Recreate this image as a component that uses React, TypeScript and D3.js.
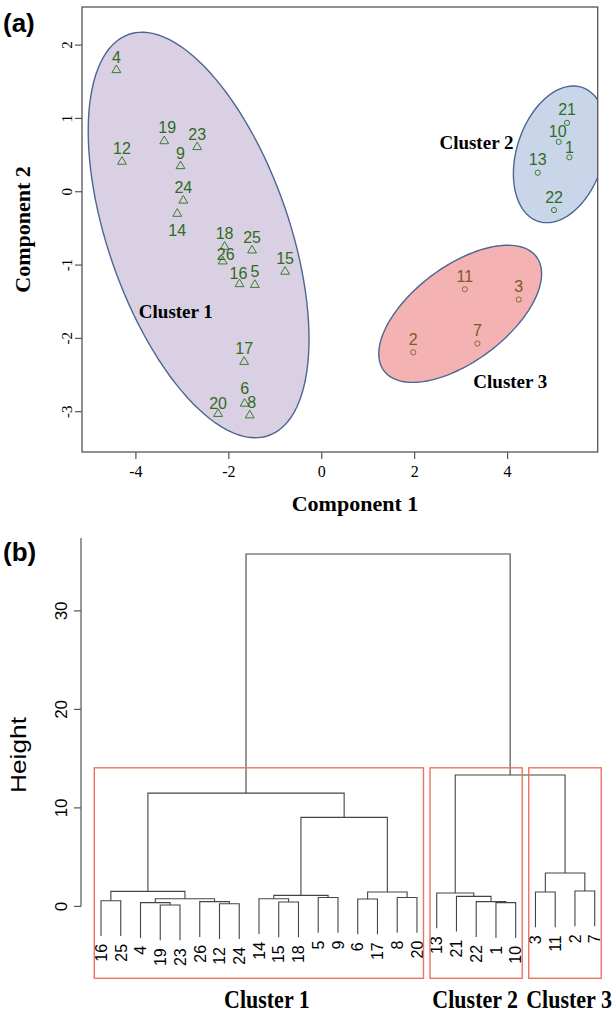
import React from 'react';
import * as d3 from 'd3';

// ---- panel (a): PCA scores ----
const pcaIds = ['4', '12', '19', '23', '9', '24', '14', '18', '26', '25', '15', '16', '5', '17', '6', '8', '20',
  '21', '10', '1', '13', '22', '11', '3', '7', '2'];
const pc1 = [-4.42, -4.30, -3.39, -2.68, -3.04, -2.98, -3.11, -2.09, -2.13, -1.50, -0.79, -1.77, -1.44, -1.67, -1.66, -1.55, -2.23,
  5.28, 5.10, 5.33, 4.65, 5.00, 3.08, 4.24, 3.35, 1.97];
const pc2 = [1.66, 0.41, 0.69, 0.61, 0.35, -0.12, -0.30, -0.75, -0.95, -0.80, -1.09, -1.26, -1.27, -2.32, -2.89, -3.05, -3.03,
  0.94, 0.68, 0.47, 0.26, -0.25, -1.33, -1.47, -2.07, -2.19];
const pcaCluster = [1, 1, 1, 1, 1, 1, 1, 1, 1, 1, 1, 1, 1, 1, 1, 1, 1, 2, 2, 2, 2, 2, 3, 3, 3, 3];

// cluster ellipses: centre + covariance, in component units
const ellCx = [-2.65, 5.13, 2.98];
const ellCy = [-0.59, 0.51, -1.665];
const ellSxx = [5.647, 1.009, 3.071];
const ellSxy = [-3.371, 0.266, 0.957];
const ellSyy = [7.651, 0.869, 0.875];
const clusterNames = ['Cluster 1', 'Cluster 2', 'Cluster 3'];
// where the cluster names sit in panel (a), component units
const nameAtX = [-3.14, 3.33, 4.06];
const nameAtY = [-1.72, 0.58, -2.68];

const xTicksA = [-4, -2, 0, 2, 4];
const yTicksA = [-3, -2, -1, 0, 1, 2];

// ---- panel (b): dendrogram ----
const leafOrder = ['16', '25', '4', '19', '23', '26', '12', '24', '14', '15', '18', '5', '9', '6', '17', '8', '20',
  '13', '21', '22', '1', '10', '3', '11', '2', '7'];
// R hclust style: negative = leaf id, positive = earlier merge (1-based)
const merges: [number, number, number][] = [
  [-19, -23, 0.14],
  [-12, -24, 0.27],
  [-1, -10, 0.38],
  [-4, 1, 0.38],
  [-15, -18, 0.44],
  [-26, 2, 0.48],
  [-22, 3, 0.48],
  [-16, -25, 0.58],
  [-6, -17, 0.75],
  [4, 6, 0.78],
  [-14, 5, 0.78],
  [-5, -9, 0.91],
  [-8, -20, 0.91],
  [-21, 7, 1.02],
  [11, 12, 1.12],
  [-13, 14, 1.36],
  [9, 13, 1.46],
  [-3, -11, 1.46],
  [8, 10, 1.52],
  [-2, -7, 1.56],
  [18, 20, 3.39],
  [15, 17, 9.04],
  [19, 22, 11.5],
  [16, 21, 13.34],
  [23, 24, 35.78],
];
const clusterSizes = [17, 5, 4];
const cutHeight = 14.07;
const clusterLabelAt = [8.4, 18.95, 23.7];
const yTicksB = [0, 10, 20, 30];

const labelNudge: Record<string, [number, number]> = {
  '14': [0, 22], '26': [3, -1], '19': [3, -8], '1': [0, -4], '10': [-1, -5], '16': [-1, -5], '20': [0, -5],
  '6': [0, -9.5], '8': [2, -7],
};

const serif = 'Liberation Serif, Times New Roman, serif';
const sans = 'Liberation Sans, Arial, sans-serif';

export default function App() {
  const xA = d3.scaleLinear().domain([-5.16, 5.94]).range([82, 597.7]);
  const yA = d3.scaleLinear().domain([-3.55, 2.52]).range([452, 7]);

  const ellipsePath = (k: number) => {
    const l11 = Math.sqrt(ellSxx[k]);
    const l21 = ellSxy[k] / l11;
    const l22 = Math.sqrt(ellSyy[k] - l21 * l21);
    const pts: [number, number][] = d3.range(0, 121).map(i => {
      const t = (i / 120) * 2 * Math.PI;
      return [xA(ellCx[k] + l11 * Math.cos(t)), yA(ellCy[k] + l21 * Math.cos(t) + l22 * Math.sin(t))];
    });
    return d3.line().curve(d3.curveLinearClosed)(pts) || '';
  };
  const fills = ['#d9d1e3', '#c9d6e9', '#f5b2b2'];
  const tri = d3.symbol(d3.symbolTriangle, 34)() || '';

  // dendrogram scales
  const xB = d3.scaleLinear().domain([0, leafOrder.length - 1]).range([101, 594.7]);
  const yB = d3.scaleLinear().domain([-7.3, 37.4]).range([978.3, 538]);
  const maxH = d3.max(merges, m => m[2]) as number;
  const hang = 0.1 * maxH;
  const nodeX = (ref: number): number =>
    ref < 0 ? xB(leafOrder.indexOf(String(-ref))) : (nodeX(merges[ref - 1][0]) + nodeX(merges[ref - 1][1])) / 2;
  const leafBottom: Record<string, number> = {};
  merges.forEach(m => [m[0], m[1]].forEach(r => { if (r < 0) leafBottom[String(-r)] = m[2] - hang; }));
  const childTop = (ref: number, h: number) => (ref < 0 ? h - hang : merges[ref - 1][2]);
  const segs = merges.map(([a, b, h]) =>
    `M${nodeX(a)},${yB(childTop(a, h))}V${yB(h)}H${nodeX(b)}V${yB(childTop(b, h))}`);

  let start = 0;
  const boxes = clusterSizes.map(n => {
    const b = { x0: xB(start - 0.34), x1: xB(start + n - 1 + 0.33) };
    start += n;
    return b;
  });

  return (
    <svg width={612} height={1015} style={{ position: 'absolute', left: 0, top: 0, background: '#fff' }}>
      <defs>
        <clipPath id="plotA">
          <rect x={82} y={7} width={597.7 - 82} height={452 - 7} />
        </clipPath>
      </defs>

      {/* ---------- (a) ---------- */}
      <text x={3} y={32} fontFamily={sans} fontWeight="bold" fontSize={26}>(a)</text>
      <g clipPath="url(#plotA)">
        {[0, 1, 2].map(k => (
          <path key={k} d={ellipsePath(k)} fill={fills[k]} stroke="#4b6693" strokeWidth={1.4} />
        ))}
      </g>
      <rect x={82} y={7} width={597.7 - 82} height={452 - 7} fill="none" stroke="#555" strokeWidth={1.3} />
      {xTicksA.map(t => (
        <g key={t}>
          <line x1={xA(t)} x2={xA(t)} y1={452} y2={459} stroke="#555" strokeWidth={1.2} />
          <text x={xA(t)} y={477} textAnchor="middle" fontFamily={serif} fontSize={16}>{t}</text>
        </g>
      ))}
      {yTicksA.map(t => (
        <g key={t}>
          <line x1={75} x2={82} y1={yA(t)} y2={yA(t)} stroke="#555" strokeWidth={1.2} />
          <text transform={`translate(72,${yA(t)}) rotate(-90)`} textAnchor="middle" fontFamily={serif} fontSize={15}>{t}</text>
        </g>
      ))}
      <text x={355} y={511} textAnchor="middle" fontFamily={serif} fontWeight="bold" fontSize={22}>Component 1</text>
      <text transform="translate(30,229.5) rotate(-90)" textAnchor="middle" fontFamily={serif} fontWeight="bold" fontSize={22}>Component 2</text>

      {pcaIds.map((id, i) => {
        const cx = xA(pc1[i]);
        const cy = yA(pc2[i]);
        const c3 = pcaCluster[i] === 3;
        const [dx, dy] = labelNudge[id] || [0, -7.5];
        return (
          <g key={id}>
            {pcaCluster[i] === 1
              ? <path d={tri} transform={`translate(${cx},${cy})`} fill="none" stroke="#3d7b2d" strokeWidth={1} />
              : <circle cx={cx} cy={cy} r={2.6} fill="none" stroke={c3 ? '#8a6a3a' : '#3d7b2d'} strokeWidth={1} />}
            <text x={cx + dx} y={cy + dy} textAnchor="middle" fontFamily={sans} fontSize={16}
              fill={c3 ? '#7a5a28' : '#2f6b22'}>{id}</text>
          </g>
        );
      })}
      {clusterNames.map((n, k) => (
        <text key={n} x={xA(nameAtX[k])} y={yA(nameAtY[k])} textAnchor="middle" fontFamily={serif}
          fontWeight="bold" fontSize={19}>{n}</text>
      ))}

      {/* ---------- (b) ---------- */}
      <text x={3} y={561} fontFamily={sans} fontWeight="bold" fontSize={26}>(b)</text>
      <line x1={81} x2={81} y1={yB(0)} y2={538} stroke="#555" strokeWidth={1.2} />
      {yTicksB.map(t => (
        <g key={t}>
          <line x1={74} x2={81} y1={yB(t)} y2={yB(t)} stroke="#555" strokeWidth={1.2} />
          <text transform={`translate(67,${yB(t)}) rotate(-90)`} textAnchor="middle" fontFamily={sans} fontSize={17}>{t}</text>
        </g>
      ))}
      <text transform="translate(26,755) rotate(-90)" textAnchor="middle" fontFamily={sans} fontSize={22}
        textLength={76} lengthAdjust="spacingAndGlyphs">Height</text>

      {segs.map((d, i) => (
        <path key={i} d={d} fill="none" stroke="#444" strokeWidth={1.1} />
      ))}
      {leafOrder.map((id, i) => (
        <text key={id} transform={`translate(${xB(i)},${yB(leafBottom[id]) + 8}) rotate(-90)`} dy="0.36em"
          textAnchor="end" fontFamily={sans} fontSize={16}>{id}</text>
      ))}
      {boxes.map((b, k) => (
        <rect key={k} x={b.x0} y={yB(cutHeight)} width={b.x1 - b.x0} height={yB.range()[0] - yB(cutHeight)}
          fill="none" stroke="#ea7460" strokeWidth={1.4} />
      ))}
      {clusterNames.map((n, k) => (
        <text key={n} transform={`translate(${xB(clusterLabelAt[k])},1008) scale(1,1.12)`} textAnchor="middle"
          fontFamily={serif} fontWeight="bold" fontSize={22}>{n}</text>
      ))}
    </svg>
  );
}
